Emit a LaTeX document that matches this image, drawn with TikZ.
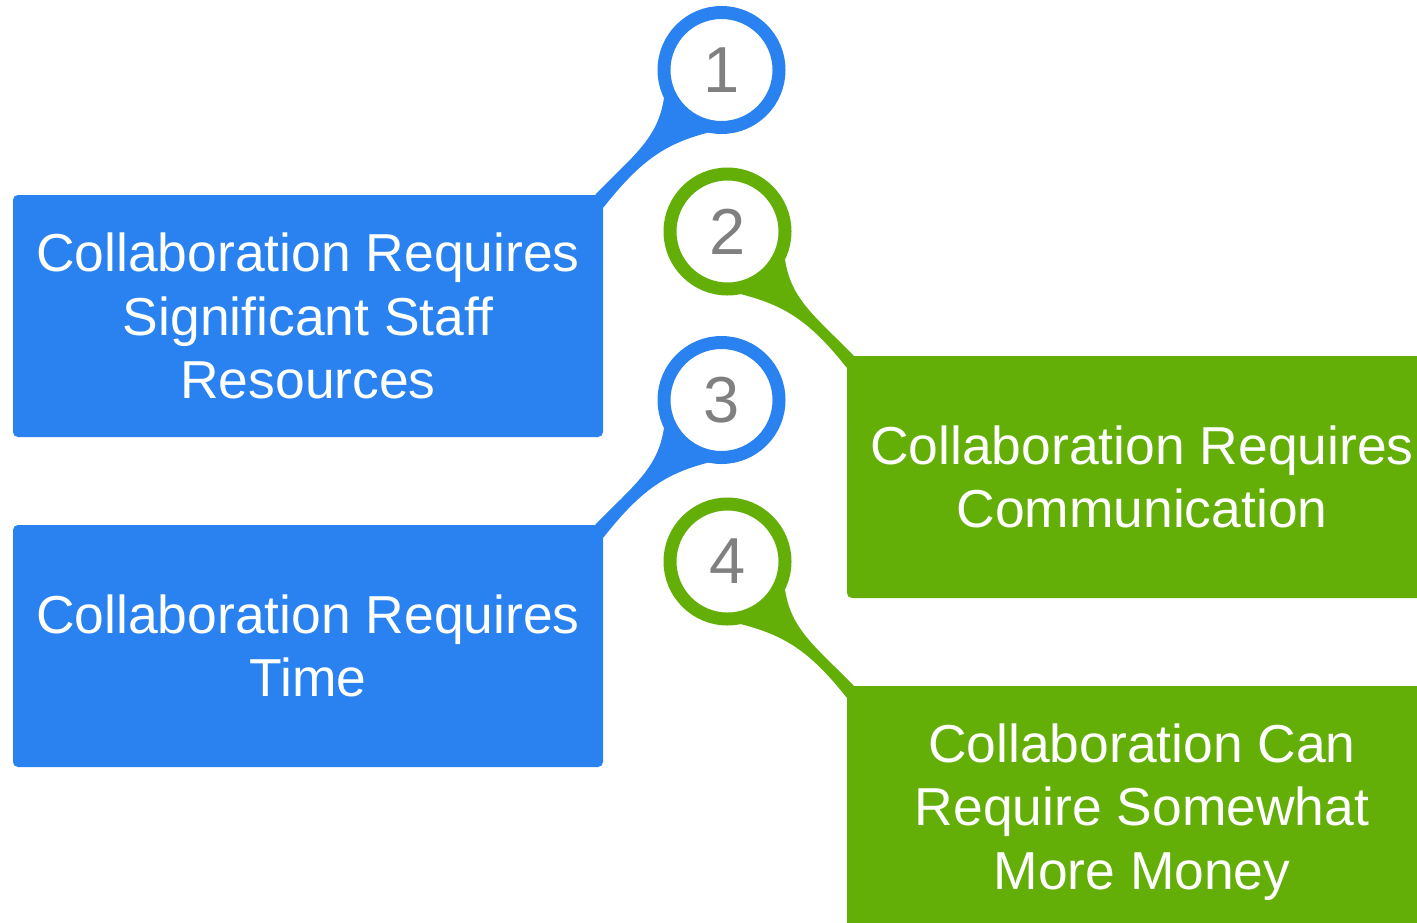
\documentclass[tikz,border=0pt]{standalone}
\usepackage{fontspec}
\setmainfont{Liberation Sans}
\usetikzlibrary{backgrounds}
\definecolor{boxblue}{RGB}{42,130,240}
\definecolor{boxgreen}{RGB}{99,174,7}
\definecolor{numgray}{RGB}{128,128,128}

\begin{document}
\begin{tikzpicture}[
    node distance=6.6cm,
    box/.style={rectangle, rounded corners=0.1cm, minimum width=11.8cm, minimum height=4.84cm, inner sep=0pt, align=center, text=white, font=\fontsize{30.4}{36.3}\selectfont},
    bluebox/.style={box, fill=boxblue},
    greenbox/.style={box, fill=boxgreen},
    num/.style={circle, fill=white, line width=0.26cm, minimum size=2.3cm, inner sep=0pt, text=numgray, font=\fontsize{37}{37}\selectfont},
    bluenum/.style={num, draw=boxblue},
    greennum/.style={num, draw=boxgreen}
]
    \path[use as bounding box, clip] (0,0) rectangle (28.34,-18.44);

    % Boxes
    \node (Staff) [bluebox] at (6.16,-6.32) {Collaboration Requires \\ Significant Staff \\ Resources};
    \node (Time) [below of=Staff, bluebox] {Collaboration Requires \\ Time};
    \node (Talk) [greenbox] at (22.84,-9.54) {Collaboration Requires \\ Communication};
    \node (Money) [below of=Talk, greenbox, minimum height=5.04cm, yshift=-0.1cm] {Collaboration Can \\ Require Somewhat \\ More Money};

    % Numbers
    \node (One) [bluenum] at ([shift={(8.27,4.92)}]Staff.center) {1};
    \node (Two) [greennum] at ([shift={(-8.29,4.91)}]Talk.center) {2};
    \node (Three) [bluenum] at ([shift={(8.27,4.92)}]Time.center) {3};
    \node (Four) [greennum] at ([shift={(-8.29,5.01)}]Money.center) {4};

    % Tails
    \begin{scope}[on background layer]
        \fill[boxblue] ([xshift=-0.16cm]Staff.north east) .. controls +(0.78,0.8) and +(-0.12,-0.8) .. (One.206)
            -- (One.258) .. controls +(-0.86,-0.22) and +(0.74,0.94) .. ([yshift=-0.26cm]Staff.north east) -- cycle;
        \fill[boxblue] ([xshift=-0.16cm]Time.north east) .. controls +(0.78,0.8) and +(-0.12,-0.8) .. (Three.206)
            -- (Three.258) .. controls +(-0.86,-0.22) and +(0.74,0.94) .. ([yshift=-0.26cm]Time.north east) -- cycle;
        \fill[boxgreen] ([xshift=0.14cm]Talk.north west) .. controls +(-0.78,0.8) and +(0.12,-0.8) .. (Two.334)
            -- (Two.282) .. controls +(0.86,-0.22) and +(-0.74,0.94) .. ([yshift=-0.24cm]Talk.north west) -- cycle;
        \fill[boxgreen] ([xshift=0.14cm]Money.north west) .. controls +(-0.78,0.8) and +(0.12,-0.8) .. (Four.334)
            -- (Four.282) .. controls +(0.86,-0.22) and +(-0.74,0.94) .. ([yshift=-0.24cm]Money.north west) -- cycle;
    \end{scope}
\end{tikzpicture}
\end{document}
